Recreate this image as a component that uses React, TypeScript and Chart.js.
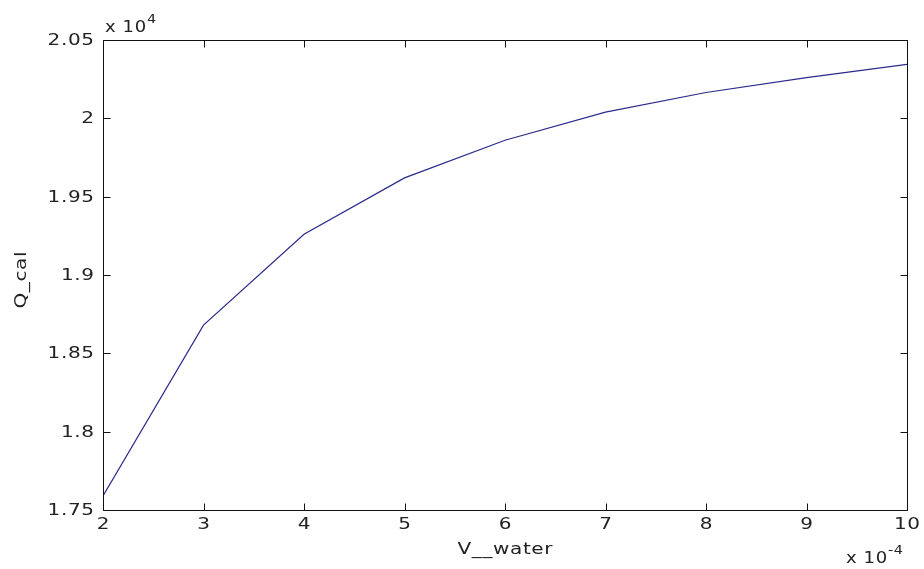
import React, { useEffect, useRef } from "react";
import { Chart, registerables } from "chart.js";

Chart.register(...registerables);

// Data (values shown in units of 1e-4 for x and 1e4 for y, as on the axes)
const vWater = [2, 3, 4, 5, 6, 7, 8, 9, 10];
const qCal = [1.759, 1.868, 1.926, 1.962, 1.986, 2.004, 2.0165, 2.026, 2.0345];
const xTickValues = [2, 3, 4, 5, 6, 7, 8, 9, 10];
const yTickValues = [1.75, 1.8, 1.85, 1.9, 1.95, 2, 2.05];
const xTitle = "V__water";
const yTitle = "Q_cal";
const yExponent = "4";
const xExponent = "-4";

const FONT_FAMILY = '"DejaVu Sans", "Liberation Sans", sans-serif';
const TEXT_COLOR = "#222222";
const STRETCH = 1.25;
const TICK_LEN = 7;

function drawText(
  ctx: CanvasRenderingContext2D,
  text: string,
  x: number,
  y: number,
  align: "left" | "center" | "right",
  size: number,
  spacing = 0.5,
  sx = STRETCH
) {
  ctx.save();
  ctx.font = `${size}px ${FONT_FAMILY}`;
  (ctx as any).letterSpacing = `${spacing}px`;
  ctx.textAlign = "left";
  ctx.textBaseline = "middle";
  const w = (ctx.measureText(text).width - spacing) * sx;
  let lx = x;
  if (align === "center") lx = x - w / 2;
  else if (align === "right") lx = x - w;
  ctx.translate(lx, y);
  ctx.scale(sx, 1);
  ctx.fillStyle = TEXT_COLOR;
  ctx.fillText(text, 0, 0);
  ctx.restore();
  return w;
}

const framePlugin = {
  id: "matlabFrame",
  beforeDraw(chart: any) {
    const ctx = chart.ctx;
    ctx.save();
    ctx.fillStyle = "#ffffff";
    ctx.fillRect(0, 0, chart.width, chart.height);
    ctx.restore();
  },
  afterDraw(chart: any) {
    const ctx = chart.ctx as CanvasRenderingContext2D;
    const { left, right, top, bottom } = chart.chartArea;
    const xs = chart.scales.x;
    const ys = chart.scales.y;
    const L = Math.round(left) + 0.5;
    const R = Math.round(right) + 0.5;
    const T = Math.round(top) + 0.5;
    const B = Math.round(bottom) + 0.5;
    ctx.save();
    ctx.strokeStyle = "#111111";
    ctx.lineWidth = 1;
    ctx.beginPath();
    ctx.rect(L, T, R - L, B - T);
    xTickValues.forEach((v) => {
      const px = Math.round(xs.getPixelForValue(v)) + 0.5;
      ctx.moveTo(px, B);
      ctx.lineTo(px, B - TICK_LEN);
      ctx.moveTo(px, T);
      ctx.lineTo(px, T + TICK_LEN);
    });
    yTickValues.forEach((v) => {
      const py = Math.round(ys.getPixelForValue(v)) + 0.5;
      ctx.moveTo(L, py);
      ctx.lineTo(L + TICK_LEN, py);
      ctx.moveTo(R, py);
      ctx.lineTo(R - TICK_LEN, py);
    });
    ctx.stroke();
    ctx.restore();

    // tick labels via the chart's scales
    xs.ticks.forEach((t: any) => {
      const px = xs.getPixelForValue(t.value);
      drawText(ctx, String(t.value), px, bottom + 15, "center", 16);
    });
    ys.ticks.forEach((t: any) => {
      const py = ys.getPixelForValue(t.value);
      const label = String(Number(Number(t.value).toFixed(2)));
      drawText(ctx, label, left - 9, py + 1, "right", 16);
    });

    // x title
    drawText(ctx, xTitle, (left + right) / 2, 550, "center", 16, 0.5);

    // y title (rotated)
    ctx.save();
    ctx.translate(22, (top + bottom) / 2 + 5);
    ctx.rotate(-Math.PI / 2);
    drawText(ctx, yTitle, 0, 0, "center", 16, 0.5);
    ctx.restore();

    // exponent labels
    const drawExp = (x: number, y: number, exp: string) => {
      const w = drawText(ctx, "x 10", x, y, "left", 15, 0.5, 1.2);
      drawText(ctx, exp, x + w + 1, y - 8, "left", 12, 0.5, 1.2);
    };
    drawExp(left + 2, 28, yExponent);
    drawExp(846, 559, xExponent);
  },
};

export default function App() {
  const canvasRef = useRef<HTMLCanvasElement | null>(null);

  useEffect(() => {
    const canvas = canvasRef.current;
    if (!canvas) return;
    const chart = new Chart(canvas, {
      type: "line",
      data: {
        datasets: [
          {
            label: yTitle,
            data: vWater.map((x, i) => ({ x, y: qCal[i] })),
            borderColor: "#2a2a8c",
            borderWidth: 1.2,
            pointRadius: 0,
            tension: 0,
            fill: false,
          },
        ],
      },
      options: {
        animation: false,
        responsive: false,
        maintainAspectRatio: false,
        layout: { padding: { top: 40, right: 17, left: 0, bottom: 0 } },
        plugins: {
          legend: { display: false },
          tooltip: { enabled: false },
          title: { display: false },
        },
        scales: {
          x: {
            type: "linear",
            min: 2,
            max: 10,
            afterFit: (scale: any) => {
              scale.height = 59;
            },
            afterBuildTicks: (scale: any) => {
              scale.ticks = xTickValues.map((v) => ({ value: v }));
            },
            grid: { display: false, drawTicks: false },
            border: { display: false },
            ticks: { display: false },
          },
          y: {
            type: "linear",
            min: 1.75,
            max: 2.05,
            afterFit: (scale: any) => {
              scale.width = 103;
            },
            afterBuildTicks: (scale: any) => {
              scale.ticks = yTickValues.map((v) => ({ value: v }));
            },
            grid: { display: false, drawTicks: false },
            border: { display: false },
            ticks: { display: false },
          },
        },
      },
      plugins: [framePlugin],
    });
    return () => chart.destroy();
  }, []);

  return (
    <div
      style={{
        position: "absolute",
        left: 0,
        top: 0,
        width: 924,
        height: 569,
        background: "#fff",
      }}
    >
      <canvas
        ref={canvasRef}
        width={924}
        height={569}
        style={{ display: "block", width: 924, height: 569 }}
      />
    </div>
  );
}
